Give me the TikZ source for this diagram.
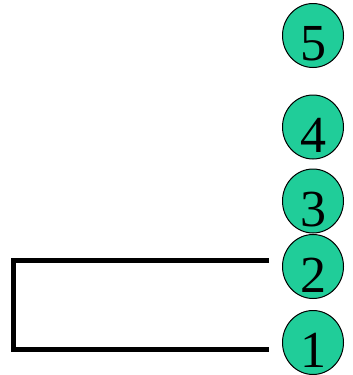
\documentclass[tikz,border=0pt]{standalone}
\usepackage{fontspec}
\setmainfont{Liberation Serif}
\usetikzlibrary{shapes.geometric}
\definecolor{ballgreen}{RGB}{32,205,153}
\begin{document}
\begin{tikzpicture}[x=1pt,y=-1pt,
  ball/.style={ellipse,draw=black,line width=1pt,fill=ballgreen,minimum width=61pt,minimum height=64pt,inner sep=0pt},
  digit/.style={font=\fontsize{52}{52}\selectfont,inner sep=0pt},
  bracket/.style={line width=5pt,line join=miter,line cap=butt}]
\useasboundingbox (0,0) rectangle (353,375);
\node[ball] (n5) at (313,35.5) {};
\node[ball] (n4) at (313,127) {};
\node[ball] (n3) at (313,201) {};
\node[ball] (n2) at (313,266.5) {};
\node[ball] (n1) at (313,342.5) {};
\foreach \n in {1,...,5}{
  \node[digit] (d\n) at ([yshift=-8.3pt]n\n.center) {\n};
}
\coordinate (a) at (269,260);
\coordinate (b) at (269,349.3);
\draw[bracket] (a) -- (13,260) -- (13,349.3) -- (b);
\end{tikzpicture}
\end{document}
